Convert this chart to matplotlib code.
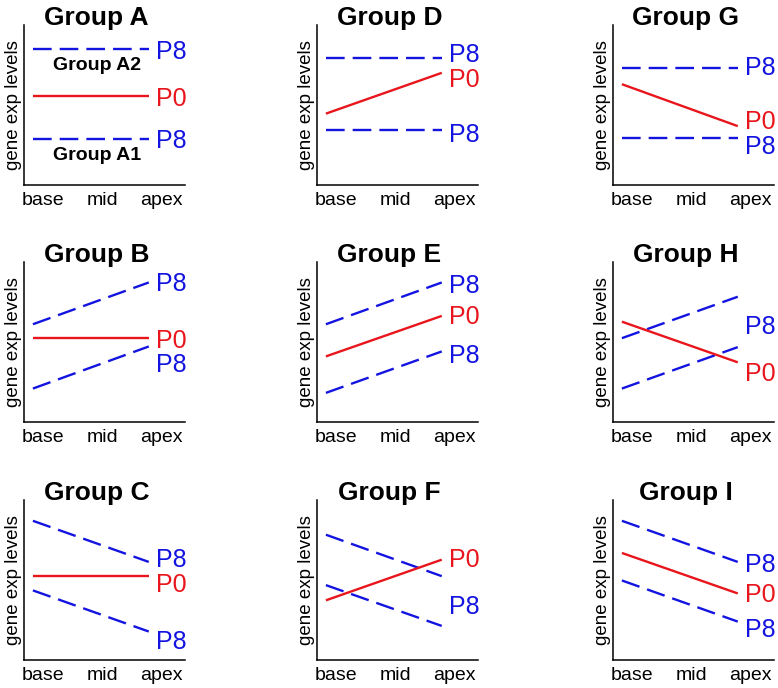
import matplotlib
matplotlib.use('Agg')
import matplotlib.pyplot as plt

plt.rcParams['font.family'] = ['Liberation Sans', 'DejaVu Sans']

# ---------------- data ----------------
tick_labels = ['base', 'mid', 'apex']
group_names = ['Group A', 'Group D', 'Group G',
               'Group B', 'Group E', 'Group H',
               'Group C', 'Group F', 'Group I']
p0_base = [5.54, 4.46, 6.30, 5.28, 4.10, 6.27, 5.24, 3.73, 6.69]
p0_apex = [5.54, 7.01, 3.68, 5.28, 6.63, 3.73, 5.24, 6.27, 4.16]
p8_upper_base = [8.47, 7.91, 7.32, 6.11, 6.11, 5.24, 8.70, 7.83, 8.70]
p8_upper_apex = [8.47, 7.91, 7.32, 8.72, 8.72, 7.83, 6.13, 5.24, 6.13]
p8_lower_base = [2.89, 3.41, 2.95, 2.09, 1.82, 2.09, 4.35, 4.68, 4.97]
p8_lower_apex = [2.89, 3.41, 2.95, 4.72, 4.41, 4.68, 1.78, 2.13, 2.40]
# end labels per panel: (text, level)
end_labels = [
    [('P8', 8.47), ('P0', 5.54), ('P8', 2.89)],
    [('P8', 8.25), ('P0', 6.72), ('P8', 3.31)],
    [('P8', 7.49), ('P0', 4.08), ('P8', 2.53)],
    [('P8', 8.76), ('P0', 5.24), ('P8', 3.69)],
    [('P8', 8.65), ('P0', 6.69), ('P8', 4.31)],
    [('P8', 6.07), ('P0', 3.17)],
    [('P8', 6.38), ('P0', 4.82), ('P8', 1.30)],
    [('P0', 6.38), ('P8', 3.48)],
    [('P8', 6.07), ('P0', 4.20), ('P8', 2.03)],
]
subgroup_labels = [('Group A2', 7.48), ('Group A1', 1.82)]

# ---------------- style / layout ----------------
RED = '#e8161c'
BLUE = '#1414e0'
W, H = 778, 688
col_left = [24, 317, 613]
row_top = [25, 262, 500]
ax_w, ax_h = 161, 160
x_line = [-0.17, 1.78]
x_lab = 1.91
LW = 1.7
DASH = (7.9, 3.4)

fig = plt.figure(figsize=(W / 100, H / 100), dpi=100)

for i, name in enumerate(group_names):
    r, c = divmod(i, 3)
    ax = fig.add_axes([col_left[c] / W, 1 - (row_top[r] + ax_h) / H, ax_w / W, ax_h / H])
    ax.set_xlim(-0.32, 2.39)
    ax.set_ylim(0, 10)
    for s in ['top', 'right']:
        ax.spines[s].set_visible(False)
    for s in ['left', 'bottom']:
        ax.spines[s].set_linewidth(1.1)
    ax.set_yticks([])
    ax.set_xticks([0, 1, 2])
    ax.set_xticklabels(tick_labels, fontsize=14)
    ax.tick_params(axis='x', length=0, pad=5)

    ax.plot(x_line, [p8_upper_base[i], p8_upper_apex[i]], color=BLUE, lw=LW,
            dashes=DASH, dash_capstyle='butt')
    ax.plot(x_line, [p8_lower_base[i], p8_lower_apex[i]], color=BLUE, lw=LW,
            dashes=DASH, dash_capstyle='butt')
    ax.plot(x_line, [p0_base[i], p0_apex[i]], color=RED, lw=LW, solid_capstyle='butt')

    for txt, yv in end_labels[i]:
        ax.text(x_lab, yv, txt, color=RED if txt == 'P0' else BLUE,
                fontsize=18, ha='left', va='center_baseline')

    ax.text(0.45, 1.0, name, transform=ax.transAxes, fontsize=19,
            fontweight='bold', ha='center', va='baseline')
    ax.text(-0.068, 0.5, 'gene exp levels', transform=ax.transAxes, fontsize=13.5,
            rotation=90, ha='center', va='center')

    if i == 0:
        for txt, yv in subgroup_labels:
            ax.text(0.455, yv / 10, txt, transform=ax.transAxes, fontsize=14,
                    fontweight='bold', ha='center', va='center')

fig.savefig('out.png', dpi=100)
